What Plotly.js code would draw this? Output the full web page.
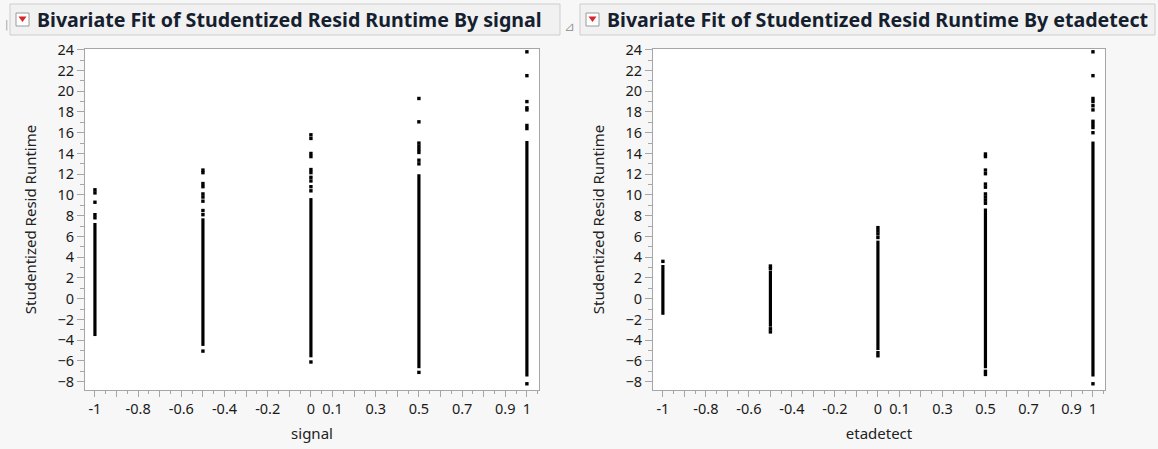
<!DOCTYPE html>
<html>
<head>
<meta charset="utf-8">
<script src="https://cdn.plot.ly/plotly-3.0.1.min.js"></script>
<style>html,body{margin:0;padding:0;background:#f7f7f7;}#chart{width:1158px;height:449px;}</style>
</head>
<body>
<div id="chart"></div>
<script>
// ---------- data ----------
var panelTitles = ["Bivariate Fit of Studentized Resid Runtime By signal",
                   "Bivariate Fit of Studentized Resid Runtime By etadetect"];
var xTitles = ["signal", "etadetect"];
var yTitle = "Studentized Resid Runtime";

var levels = [-1, -0.5, 0, 0.5, 1];

// dense (overplotted) runs of points, per level: low..high
var signalDenseLow  = [-3.6, -4.55, -5.65, -6.7, -7.5];
var signalDenseHigh = [7.3, 7.75, 9.7, 12.0, 15.2];
var etaDenseLow  = [-1.55, -2.7, -4.95, -6.7, -7.5];
var etaDenseHigh = [3.25, 2.7, 5.6, 8.7, 15.15];

// separately visible points
var signalPtX = [-1,-1,-1,-1,-1,
                 -0.5,-0.5,-0.5,-0.5,-0.5,-0.5,-0.5,-0.5,-0.5,-0.5,
                 0,0,0,0,0,0,0,0,0,0,0,
                 0.5,0.5,0.5,0.5,0.5,0.5,0.5,0.5,0.5,
                 1,1,1,1,1,1,1,1];
var signalPtY = [10.5,10.2,9.3,8.1,7.8,
                 12.4,12.15,11.1,10.8,10.1,9.8,9.4,8.5,8.1,-5.05,
                 15.8,15.45,14.0,13.7,12.45,12.15,11.7,11.35,10.8,10.4,-6.1,
                 19.3,17.05,15.0,14.7,14.4,14.1,13.35,13.0,-7.1,
                 23.8,21.5,19.0,18.4,18.2,16.7,16.4,-8.2];

var etaPtX = [-1,
              -0.5,-0.5,-0.5,-0.5,
              0,0,0,0,0,0,
              0.5,0.5,0.5,0.5,0.5,0.5,0.5,0.5,0.5,0.5,0.5,0.5,
              1,1,1,1,1,1,1,1,1,1,1];
var etaPtY = [3.6,
              3.15,2.9,-2.9,-3.2,
              6.85,6.55,6.25,5.9,-5.2,-5.5,
              13.95,13.7,12.4,12.05,11.05,10.75,10.1,9.8,9.5,9.2,-7.0,-7.3,
              23.8,21.5,19.3,19.0,18.6,18.2,17.1,16.8,16.5,16.0,-8.2];

var xTickVals = [-1,-0.9,-0.8,-0.7,-0.6,-0.5,-0.4,-0.3,-0.2,-0.1,0,0.1,0.2,0.3,0.4,0.5,0.6,0.7,0.8,0.9,1];
var xTickText = ["-1","","-0.8","","-0.6","","-0.4","","-0.2","","0","0.1","","0.3","","0.5","","0.7","","0.9","1"];
var yTickVals = [-8,-6,-4,-2,0,2,4,6,8,10,12,14,16,18,20,22,24];

// ---------- build ----------
function segs(xs, lo, hi){
  var X=[],Y=[];
  for(var i=0;i<xs.length;i++){X.push(xs[i],xs[i],null);Y.push(lo[i],hi[i],null);}
  return {x:X,y:Y};
}
var s1 = segs(levels, signalDenseLow, signalDenseHigh);
var s2 = segs(levels, etaDenseLow, etaDenseHigh);

var lineStyle = {color:'#000', width:3.2};
var mk = {symbol:'square', size:3.4, color:'#000', line:{width:0}};
var traces = [
  {x:s1.x,y:s1.y,mode:'lines',line:lineStyle,xaxis:'x',yaxis:'y',hoverinfo:'skip'},
  {x:signalPtX,y:signalPtY,mode:'markers',marker:mk,xaxis:'x',yaxis:'y'},
  {x:s2.x,y:s2.y,mode:'lines',line:lineStyle,xaxis:'x2',yaxis:'y2',hoverinfo:'skip'},
  {x:etaPtX,y:etaPtY,mode:'markers',marker:mk,xaxis:'x2',yaxis:'y2'}
];

var W=1158,H=449;
function px(v){return v/W;} function py(v){return 1-v/H;}
var FONT = '"Noto Sans", "Open Sans", sans-serif';
var axisCol = '#a6a6a6';

function xAxis(l,r,title,anchor){
  return {domain:[px(l),px(r)], range:[-1.046,1.056], anchor:anchor,
    tickmode:'array', tickvals:xTickVals, ticktext:xTickText,
    ticks:'outside', ticklen:6, tickcolor:axisCol, tickwidth:1,
    minor:{dtick:0.05, tick0:0, ticks:'outside', ticklen:3, tickcolor:axisCol, showgrid:false},
    showline:true, linecolor:axisCol, mirror:true, showgrid:false, zeroline:false,
    tickfont:{family:FONT,size:14.5,color:'#1a1a1a'},
    title:{text:title, font:{family:FONT,size:15,color:'#222'}, standoff:11}};
}
function yAxis(anchor){
  return {domain:[py(390),py(49)], range:[-8.8,24.07], anchor:anchor,
    tickmode:'array', tickvals:yTickVals,
    ticks:'outside', ticklen:7, tickcolor:axisCol, tickwidth:1,
    minor:{dtick:1, tick0:0, ticks:'outside', ticklen:4, tickcolor:axisCol, showgrid:false},
    showline:true, linecolor:axisCol, mirror:true, showgrid:false, zeroline:false,
    tickfont:{family:FONT,size:14.5,color:'#1a1a1a'},
    title:{text:yTitle, font:{family:FONT,size:15,color:'#222'}, standoff:17}};
}

var shapes = [];
var annotations = [];
function header(l,r,title){
  shapes.push({type:'rect',xref:'paper',yref:'paper',x0:px(l),x1:px(r),y0:py(35),y1:py(4),
    fillcolor:'#f1f1f1',line:{color:'#cdcdcd',width:1}});
  shapes.push({type:'rect',xref:'paper',yref:'paper',x0:px(l+6),x1:px(l+19),y0:py(26),y1:py(13),
    fillcolor:'#ffffff',line:{color:'#9a9a9a',width:1}});
  var a=l+8.5,b=l+16.5,c=l+12.5;
  shapes.push({type:'path',xref:'paper',yref:'paper',
    path:'M '+px(a)+' '+py(16.5)+' L '+px(b)+' '+py(16.5)+' L '+px(c)+' '+py(22)+' Z',
    fillcolor:'#d7262b',line:{width:0}});
  annotations.push({xref:'paper',yref:'paper',x:px(l+25),y:py(19.5),xanchor:'left',yanchor:'middle',
    text:'<b>'+title+'</b>',showarrow:false,font:{family:FONT,size:19.6,color:'#15202e'}});
}
header(10,560,panelTitles[0]);
header(580,1155,panelTitles[1]);
annotations.push({xref:'paper',yref:'paper',x:px(569),y:py(17),text:'⊿',showarrow:false,
  font:{family:'DejaVu Sans',size:13,color:'#9a9a9a'}});
annotations.push({xref:'paper',yref:'paper',x:px(3),y:py(17),text:'|',showarrow:false,
  font:{family:'DejaVu Sans',size:10,color:'#9a9a9a'}});

var layout = {
  width:W,height:H,margin:{l:0,r:0,t:0,b:0},
  paper_bgcolor:'#f7f7f7',plot_bgcolor:'#ffffff',showlegend:false,
  xaxis:xAxis(85,539,xTitles[0],'y'),
  yaxis:yAxis('x'),
  xaxis2:xAxis(653,1105,xTitles[1],'y2'),
  yaxis2:yAxis('x2'),
  shapes:shapes, annotations:annotations
};
Plotly.newPlot('chart',traces,layout,{staticPlot:true,displayModeBar:false});
</script>
</body>
</html>
